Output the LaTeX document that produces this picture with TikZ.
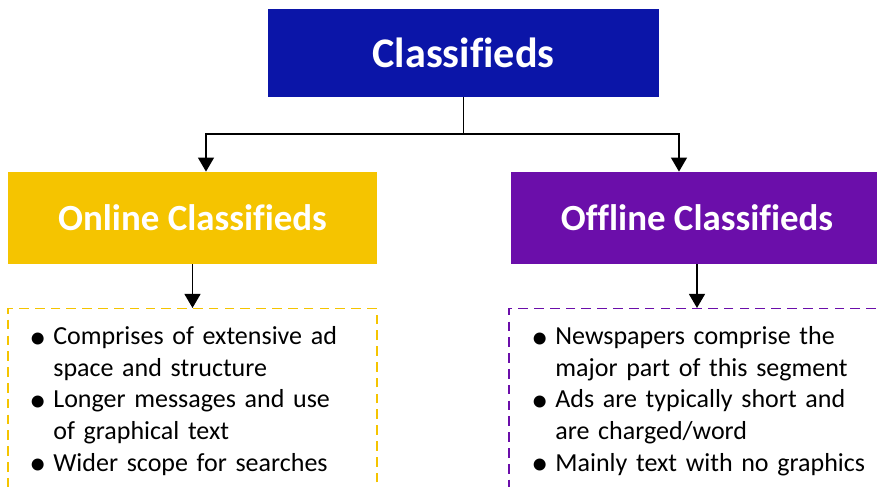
\documentclass[tikz,border=0pt]{standalone}
\usepackage{fontspec}
\setmainfont{Carlito}[Ligatures=NoCommon]
\usepackage{enumitem}
\usetikzlibrary{positioning,arrows.meta}

\definecolor{classblue}{HTML}{0B15A8}
\definecolor{onyellow}{HTML}{F5C400}
\definecolor{offpurple}{HTML}{6B0EAA}

\tikzset{
  headbox/.style={fill=#1, text=white, inner sep=0pt,
    font=\bfseries\fontsize{21}{25}\selectfont},
  listbox/.style={draw=#1, line width=0.85pt, dash pattern=on 5.5pt off 3.5pt},
  link/.style={line width=1.1pt},
  arr/.style={link, -{Triangle[length=8pt,width=9pt]}},
  bullets/.style={anchor=north west, inner sep=0pt, text width=7.2cm,
    font=\fontsize{14.8}{18}\selectfont}
}

\newcommand\adbullet{\makebox[0pt][l]{\hspace*{-0.12cm}\raisebox{-0.3ex}{\scalebox{1.3}{\textbullet}}}}
\newenvironment{adlist}{\begin{itemize}[label=\adbullet, leftmargin=0.36cm,
  labelindent=0pt, labelwidth=0.2cm, labelsep=0.16cm, align=left, topsep=0pt,
  itemsep=0pt, parsep=0pt, partopsep=0pt]}{\end{itemize}}

\begin{document}
\begin{tikzpicture}
			\path[use as bounding box, clip] (0,0) rectangle (17.54,9.72);

			% heads
			\node[headbox=classblue, minimum width=7.82cm, minimum height=1.76cm,
			  font=\bfseries\fontsize{24}{28}\selectfont] (classif) at (9.27,8.66) {Classifieds};
			\node[headbox=onyellow, minimum width=7.38cm, minimum height=1.84cm] (online) at (3.85,5.36) {Online Classifieds};
			\node[headbox=offpurple, minimum width=7.44cm, minimum height=1.84cm] (offline) at (13.94,5.36) {Offline Classifieds};

			% dashed boxes
			\node[listbox=onyellow, anchor=north, minimum width=7.38cm, minimum height=4cm] (onbox) at (3.85,3.56) {};
			\node[listbox=offpurple, anchor=north, minimum width=7.52cm, minimum height=4cm] (offbox) at (13.94,3.56) {};

			% connectors
			\coordinate (split) at ([yshift=-0.74cm]classif.south);
			\draw[link] (classif.south) -- (split);
			\draw[arr] (split) -| ([xshift=0.27cm]online.north);
			\draw[arr] (split) -| ([xshift=-0.36cm]offline.north);
			\draw[arr] (online.south) -- (onbox.north);
			\draw[arr] (offline.south) -- (offbox.north);

			% lists
			\node[bullets] (onlist) at (0.70,3.47) {%
			  \begin{adlist}
			    \item Comprises of extensive ad\newline space and structure
			    \item Longer messages and use\newline of graphical text
			    \item Wider scope for searches
			  \end{adlist}};
			\node[bullets] (offlist) at (10.74,3.47) {%
			  \begin{adlist}
			    \item Newspapers comprise the\newline major part of this segment
			    \item Ads are typically short and\newline are charged/word
			    \item Mainly text with no graphics
			  \end{adlist}};
\end{tikzpicture}
\end{document}
